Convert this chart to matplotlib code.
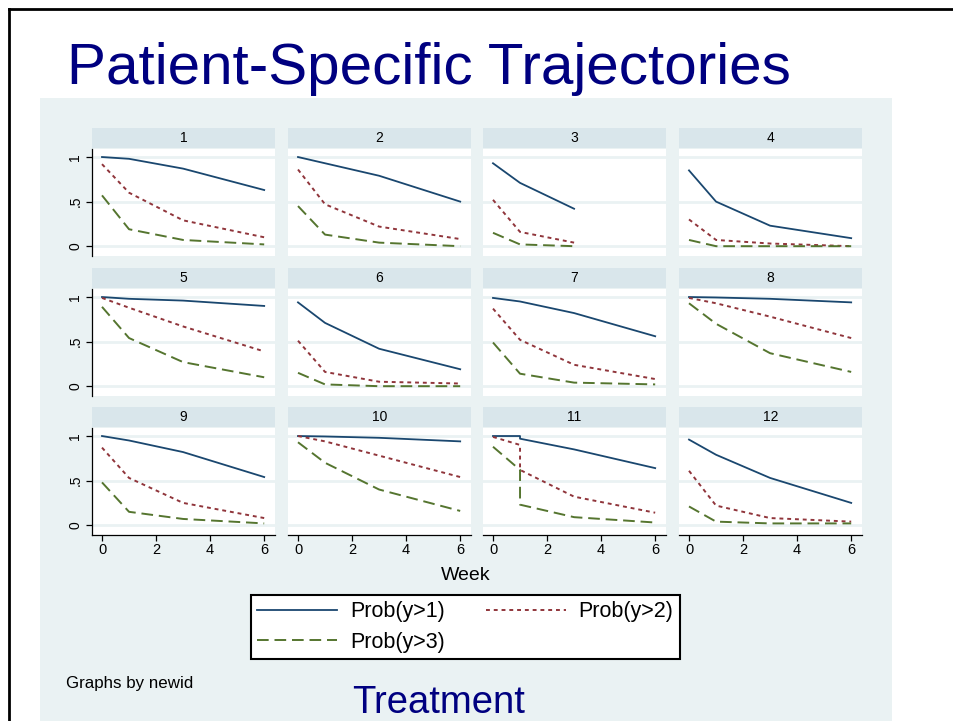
import matplotlib
matplotlib.use('Agg')
import matplotlib.pyplot as plt
from matplotlib.patches import Rectangle
from matplotlib.lines import Line2D

plt.rcParams['font.family'] = ['Liberation Sans', 'DejaVu Sans']

# estimated cumulative probabilities per patient (newid 1..12)
panel_ids = list(range(1, 13))
weeks_std = [0, 1, 3, 6]
panel_weeks = [weeks_std, weeks_std, [0, 1, 3], weeks_std,
               weeks_std, weeks_std, weeks_std, weeks_std,
               weeks_std, weeks_std, [0, 1, 1, 3, 6], weeks_std]

prob_gt1 = [[1.00, 0.98, 0.87, 0.63],
            [1.00, 0.93, 0.79, 0.50],
            [0.93, 0.71, 0.42],
            [0.85, 0.50, 0.23, 0.09],
            [1.00, 0.98, 0.96, 0.90],
            [0.94, 0.71, 0.42, 0.19],
            [0.99, 0.95, 0.82, 0.56],
            [1.00, 0.995, 0.98, 0.94],
            [1.00, 0.95, 0.82, 0.54],
            [1.00, 0.995, 0.98, 0.94],
            [1.00, 1.00, 0.97, 0.85, 0.64],
            [0.96, 0.79, 0.53, 0.25]]

prob_gt2 = [[0.92, 0.60, 0.29, 0.10],
            [0.86, 0.47, 0.22, 0.08],
            [0.52, 0.16, 0.04],
            [0.30, 0.07, 0.03, 0.00],
            [0.99, 0.88, 0.67, 0.39],
            [0.51, 0.16, 0.05, 0.03],
            [0.87, 0.52, 0.24, 0.08],
            [0.99, 0.93, 0.78, 0.54],
            [0.87, 0.53, 0.25, 0.08],
            [1.00, 0.94, 0.78, 0.54],
            [0.99, 0.90, 0.62, 0.32, 0.14],
            [0.61, 0.22, 0.08, 0.04]]

prob_gt3 = [[0.57, 0.19, 0.07, 0.02],
            [0.45, 0.13, 0.04, 0.00],
            [0.15, 0.02, 0.00],
            [0.07, 0.00, 0.00, 0.00],
            [0.89, 0.54, 0.27, 0.10],
            [0.15, 0.02, 0.00, 0.00],
            [0.49, 0.14, 0.04, 0.02],
            [0.93, 0.70, 0.37, 0.16],
            [0.48, 0.15, 0.07, 0.02],
            [0.93, 0.70, 0.40, 0.16],
            [0.88, 0.62, 0.23, 0.09, 0.03],
            [0.21, 0.04, 0.02, 0.02]]

series_labels = ['Prob(y>1)', 'Prob(y>2)', 'Prob(y>3)']
C_BLUE = '#1a476f'
C_RED = '#90353b'
C_GREEN = '#55752f'
BG = '#eaf2f3'
STRIP = '#d9e6eb'
NAVY = '#000080'

W, H = 954, 721
fig = plt.figure(figsize=(W / 100, H / 100), dpi=100)


def box(x0, y0, x1, y1):
    # pixel rectangle (top-left origin) -> figure fraction
    return [x0 / W, 1 - y1 / H, (x1 - x0) / W, (y1 - y0) / H]


# slide frame + graph region
fig.patches.append(Rectangle((40 / W, 0), (892 - 40) / W, 1 - 98 / H,
                             transform=fig.transFigure, facecolor=BG,
                             edgecolor='none', zorder=-5))
fig.lines.append(Line2D([9 / W, 9 / W], [0, 1 - 9 / H], transform=fig.transFigure,
                        color='black', lw=2))
fig.lines.append(Line2D([9 / W, 1], [1 - 9 / H, 1 - 9 / H], transform=fig.transFigure,
                        color='black', lw=2))

col_x0 = [92, 288, 483, 679]
row_top = [149, 289, 428]
pw, ph, sh = 183, 107, 21

styles = [dict(color=C_BLUE, lw=1.3, ls='-'),
          dict(color=C_RED, lw=1.4, ls=(0, (2, 2))),
          dict(color=C_GREEN, lw=1.4, ls=(0, (6, 3)))]

for i, pid in enumerate(panel_ids):
    r, c = divmod(i, 4)
    x0, y0 = col_x0[c], row_top[r]

    sax = fig.add_axes(box(x0, y0 - sh, x0 + pw, y0 - 1))
    sax.set_facecolor(STRIP)
    sax.set_xticks([])
    sax.set_yticks([])
    for s in sax.spines.values():
        s.set_visible(False)
    sax.text(0.5, 0.5, str(pid), ha='center', va='center', fontsize=10,
             transform=sax.transAxes)

    ax = fig.add_axes(box(x0, y0, x0 + pw, y0 + ph))
    ax.set_facecolor('white')
    for s in ax.spines.values():
        s.set_visible(False)
    ax.set_xlim(-0.37, 6.4)
    ax.set_ylim(-0.11, 1.09)
    ax.set_yticks([0, 0.5, 1])
    ax.set_xticks([0, 2, 4, 6])
    ax.grid(axis='y', color=BG, lw=2)
    ax.grid(axis='x', visible=False)
    ax.set_axisbelow(True)

    wk = panel_weeks[i]
    for vals, st in zip([prob_gt1[i], prob_gt2[i], prob_gt3[i]], styles):
        ax.plot(wk, vals, **st)

    if c == 0:
        ax.spines['left'].set_visible(True)
        ax.spines['left'].set_linewidth(0.9)
        ax.set_yticklabels(['0', '.5', '1'], rotation=90, va='center')
        ax.tick_params(axis='y', length=4, width=0.9, labelsize=10, pad=3)
    else:
        ax.tick_params(axis='y', left=False, labelleft=False)

    if r == 2:
        ax.spines['bottom'].set_visible(True)
        ax.spines['bottom'].set_linewidth(0.9)
        ax.tick_params(axis='x', length=4, width=0.9, labelsize=10.5, pad=2)
    else:
        ax.tick_params(axis='x', bottom=False, labelbottom=False)

fig.text(466 / W, 1 - 575 / H, 'Week', ha='center', va='center', fontsize=14)

handles = [Line2D([], [], **styles[0]), Line2D([], [], **styles[2]),
           Line2D([], [], **styles[1])]
labels = [series_labels[0], series_labels[2], series_labels[1]]
b = box(251, 590, 680, 664)
leg = fig.legend(handles, labels, ncol=2, loc='center', mode='expand',
                 bbox_to_anchor=tuple(b), borderaxespad=0, fontsize=15.5,
                 handlelength=3.7, handletextpad=0.6, fancybox=False,
                 framealpha=1, edgecolor='black', columnspacing=1.2,
                 labelspacing=0.45, borderpad=0.3)
leg.get_frame().set_linewidth(1.5)

fig.text(67 / W, 1 - 84 / H, 'Patient-Specific Trajectories', color=NAVY,
         fontsize=42, va='baseline')
fig.text(66 / W, 1 - 688 / H, 'Graphs by newid', fontsize=12.2, va='baseline')
fig.text(352 / W, 1 - 713 / H, 'Treatment', color=NAVY, fontsize=27.5,
         va='baseline')

fig.savefig('out.png', dpi=100)
